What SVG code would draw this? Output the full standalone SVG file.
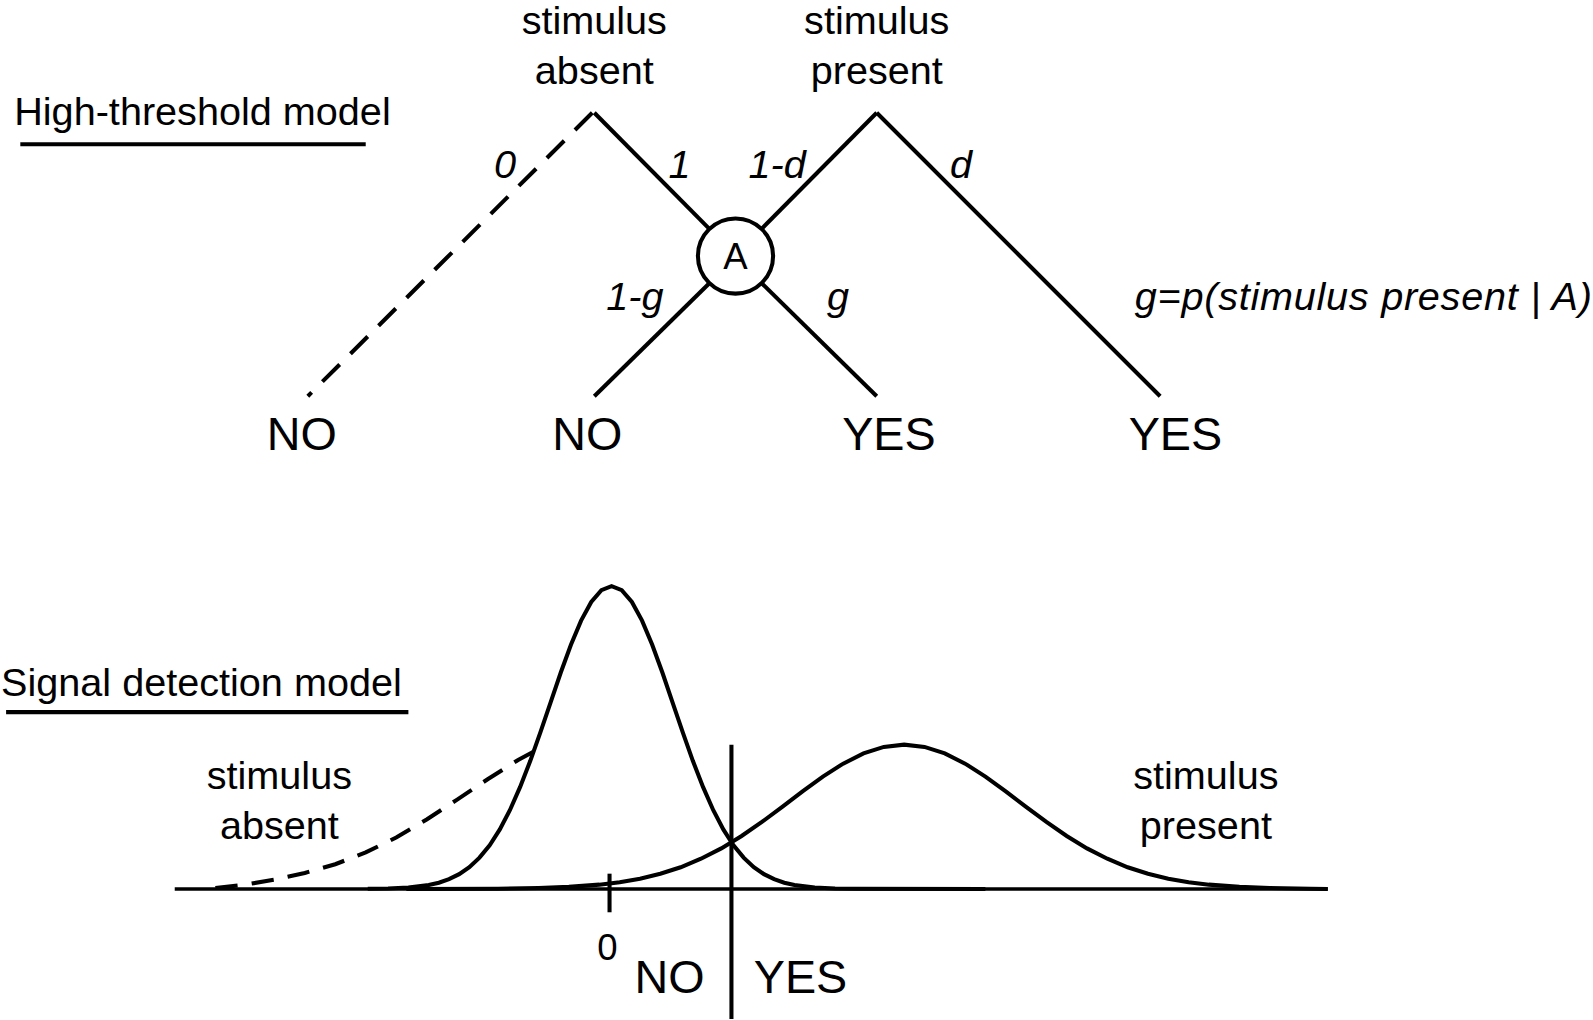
<svg xmlns="http://www.w3.org/2000/svg" width="1593" height="1020" viewBox="0 0 1593 1020">
<style>
.t{font-family:"Liberation Sans",Arial,sans-serif;font-size:39px;fill:#000}
.i{font-style:italic}
.big{font-size:46px}
.ln{stroke:#000;stroke-width:4;fill:none;stroke-linecap:butt}
.dash{stroke-dasharray:24 15}
</style>
<rect width="1593" height="1020" fill="#fff"/>
<g transform="scale(1.0159)">
<g id="titles">
<text class="t" x="14" y="123">High-threshold model</text>
<line class="ln" x1="20" y1="142" x2="360" y2="142"/>
<text class="t" x="1" y="685">Signal detection model</text>
<line class="ln" x1="6" y1="701" x2="402" y2="701"/>
</g>
<g id="root-absent">
<text class="t" x="585" y="33" text-anchor="middle">stimulus</text>
<text class="t" x="585" y="83" text-anchor="middle">absent</text>
</g>
<g id="root-present">
<text class="t" x="863" y="33" text-anchor="middle">stimulus</text>
<text class="t" x="863" y="83" text-anchor="middle">present</text>
</g>
<g id="node-A">
<circle cx="724" cy="252" r="37" fill="#fff" stroke="#000" stroke-width="4"/>
<text class="t" x="724" y="265" text-anchor="middle" style="font-size:36px">A</text>
</g>
<g id="leaf-no1"><text class="t big" x="297" y="443" text-anchor="middle">NO</text></g>
<g id="leaf-no2"><text class="t big" x="578" y="443" text-anchor="middle">NO</text></g>
<g id="leaf-yes1"><text class="t big" x="875" y="443" text-anchor="middle">YES</text></g>
<g id="leaf-yes2"><text class="t big" x="1157" y="443" text-anchor="middle">YES</text></g>
<g id="connectors">
<line class="ln dash" x1="583" y1="111" x2="303" y2="390"/>
<line class="ln" x1="585" y1="111" x2="698" y2="225"/>
<line class="ln" x1="750" y1="225" x2="863" y2="111"/>
<line class="ln" x1="863" y1="111" x2="1142" y2="390"/>
<line class="ln" x1="698" y1="279" x2="585" y2="390"/>
<line class="ln" x1="750" y1="279" x2="863" y2="390"/>
</g>
<g id="edge-labels">
<text class="t i" x="497" y="175" text-anchor="middle">0</text>
<text class="t i" x="669" y="175" text-anchor="middle">1</text>
<text class="t i" x="765" y="175" text-anchor="middle">1-d</text>
<text class="t i" x="946" y="175" text-anchor="middle">d</text>
<text class="t i" x="625" y="305" text-anchor="middle">1-g</text>
<text class="t i" x="825" y="305" text-anchor="middle">g</text>
<text class="t i" x="1117" y="305" textLength="450">g=p(stimulus present | A)</text>
</g>
<g id="sdt">
<line class="ln" x1="172" y1="875" x2="1307" y2="875" style="stroke-width:3.5"/>
<line class="ln" x1="720" y1="733" x2="720" y2="1003"/>
<line class="ln" x1="600" y1="860" x2="600" y2="898"/>
<path class="ln" d="M362,874.9 L382,874.6 L402,873.6 L422,871.2 L432,868.9 L442,865.4 L452,860.5 L462,853.6 L472,844.2 L482,832 L492,816.4 L502,797.3 L512,774.6 L522,748.9 L532,720.7 L542,691.3 L552,662 L562,634.7 L572,610.9 L582,592.6 L592,581 L602,577 L612,581 L622,592.6 L632,610.9 L642,634.7 L652,662 L662,691.3 L672,720.7 L682,748.9 L692,774.6 L702,797.3 L712,816.4 L722,832 L732,844.2 L742,853.6 L752,860.5 L762,865.4 L772,868.9 L782,871.2 L802,873.6 L822,874.6 L842,874.9 L970,875"/>
<path class="ln" d="M400,875 L490,874.8 L530,874.1 L560,873 L590,870.8 L610,868.4 L630,864.9 L650,860.1 L670,853.7 L690,845.3 L710,835.1 L730,822.9 L750,809.1 L770,794.2 L790,779 L810,764.5 L830,751.7 L850,741.6 L870,735.2 L890,733 L910,735.2 L930,741.6 L950,751.7 L970,764.5 L990,779 L1010,794.2 L1030,809.1 L1050,822.9 L1070,835.1 L1090,845.3 L1110,853.7 L1130,860.1 L1150,864.9 L1170,868.4 L1190,870.8 L1220,873 L1250,874.1 L1290,874.8 L1307,875"/>
<path class="ln dash" style="stroke-dasharray:22 14" d="M212,874 L240,871 L270,866 L300,859.3 L330,850.7 L360,839.1 L390,824.4 L420,806.7 L450,787.1 L480,767 L510,748.1 L528,738.3"/>
<text class="t" x="275" y="777" text-anchor="middle">stimulus</text>
<text class="t" x="275" y="826" text-anchor="middle">absent</text>
<text class="t" x="1187" y="777" text-anchor="middle">stimulus</text>
<text class="t" x="1187" y="826" text-anchor="middle">present</text>
<text class="t" x="598" y="945" text-anchor="middle" style="font-size:36px">0</text>
<text class="t big" x="659" y="977" text-anchor="middle">NO</text>
<text class="t big" x="788" y="977" text-anchor="middle">YES</text>
</g>
</g>
</svg>
